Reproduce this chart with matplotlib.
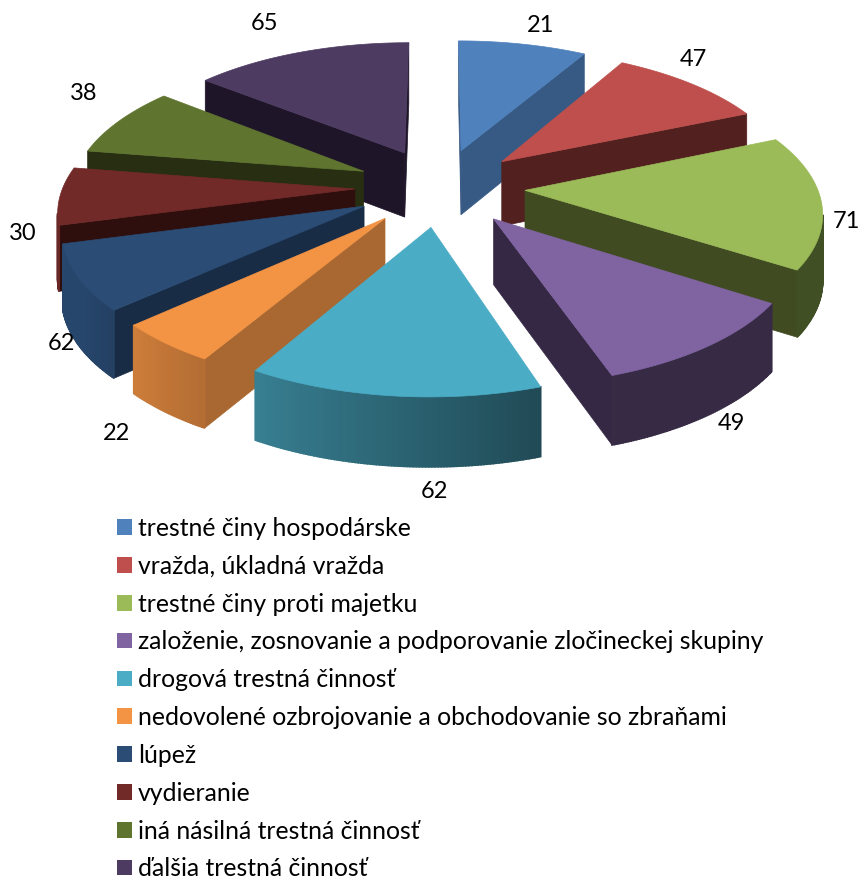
#!/usr/bin/env python3
# -*- coding: utf-8 -*-

import numpy as np
import matplotlib
matplotlib.use('Agg')
import matplotlib.pyplot as plt
from matplotlib.patches import Patch

plt.rcParams['font.family'] = ['Lato', 'DejaVu Sans']

categories = ['trestné činy hospodárske', 'vražda, úkladná vražda', 'trestné činy proti majetku',
              'založenie, zosnovanie a podporovanie zločineckej skupiny', 'drogová trestná činnosť',
              'nedovolené ozbrojovanie a obchodovanie so zbraňami', 'lúpež', 'vydieranie',
              'iná násilná trestná činnosť', 'ďalšia trestná činnosť']
# printed labels do not fit the slice sizes in the picture, so both are kept
data_labels = [21, 47, 71, 49, 62, 22, 62, 30, 38, 65]
slice_values = [38, 47, 72, 49, 62, 22, 35, 31, 38, 65]

top_colors = ['#4F81BD', '#BE4F4C', '#9BBB59', '#8064A2', '#4BACC6', '#F39445', '#2A4C75', '#722A29', '#5F752F', '#4D3B62']
side_colors = ['#375A85', '#51201F', '#404B22', '#342844', '#1E4653', '#A96831', '#182C45', '#2F0F0E', '#272E12', '#1E1529']
label_pos = [(541, 25), (693, 60), (846, 221), (731, 424), (434, 492), (117, 434), (61, 343), (23, 233), (84, 94), (265, 23)]

cx, cy = 440, 187
radius, explode = 292, 85
tilt, persp = 0.459, 0.000469
depth = 65


def project(x, y):
    w = 1 + persp * y
    return cx + x / w, cy - tilt * y / w


def shade(color, f):
    return tuple(np.array(matplotlib.colors.to_rgb(color)) * f)


def arc_factor(t):
    # lit from the left, right hand facets get dark
    return np.clip(0.42 + (t - 160) / 60 * 0.38, 0.42, 0.92)


def draw_slice(ax, start, end, top, side):
    mid = np.radians((start + end) / 2)
    ox, oy = explode * np.sin(mid), explode * np.cos(mid)
    ts = np.linspace(start, end, int(end - start) * 2 + 2)
    xs = ox + radius * np.sin(np.radians(ts))
    ys = oy + radius * np.cos(np.radians(ts))
    ax_, ay_ = project(ox, oy)
    px, py = project(xs, ys)
    h = depth / (1 + 0.4 * persp * ys)
    ah = depth / (1 + 0.4 * persp * oy)

    # radial faces first, only those that look at the viewer (clockwise outline, going left)
    if px[0] < ax_:
        ax.fill([ax_, px[0], px[0], ax_], [ay_, py[0], py[0] + h[0], ay_ + ah], color=side, lw=0.5)
    if ax_ < px[-1]:
        ax.fill([ax_, px[-1], px[-1], ax_], [ay_, py[-1], py[-1] + h[-1], ay_ + ah], color=side, lw=0.5)

    # outer rim, one facet per step
    for i in range(len(ts) - 1):
        if px[i + 1] < px[i]:
            c = shade(top, arc_factor((ts[i] + ts[i + 1]) / 2))
            ax.fill([px[i], px[i + 1], px[i + 1], px[i]],
                     [py[i], py[i + 1], py[i + 1] + h[i + 1], py[i] + h[i]], color=c, lw=1.2)

    ax.fill(np.r_[ax_, px], np.r_[ay_, py], color=top, lw=0.5)


fig = plt.figure(figsize=(8.59, 8.80), dpi=100)
ax = fig.add_axes([0, 0, 1, 1])
ax.set_xlim(0, 859)
ax.set_ylim(880, 0)
ax.axis('off')

edges = np.r_[0, np.cumsum(slice_values)] / sum(slice_values) * 360
mids = (edges[:-1] + edges[1:]) / 2
# back to front
for i in np.argsort(-np.cos(np.radians(mids))):
    draw_slice(ax, edges[i], edges[i + 1], top_colors[i], side_colors[i])

for val, (x, y) in zip(data_labels, label_pos):
    ax.text(x, y, str(val), ha='center', va='center', fontsize=17, color='k')

handles = [Patch(facecolor=c, edgecolor='none') for c in top_colors]
ax.legend(handles, categories, loc='upper left', bbox_to_anchor=(104.5 / 859, 1 - 504.5 / 880),
          frameon=False, fontsize=17.8, handlelength=0.6, handleheight=0.6, handletextpad=0.25,
          labelspacing=0.6, borderpad=0, borderaxespad=0.5)

fig.savefig('out.png', dpi=100)
